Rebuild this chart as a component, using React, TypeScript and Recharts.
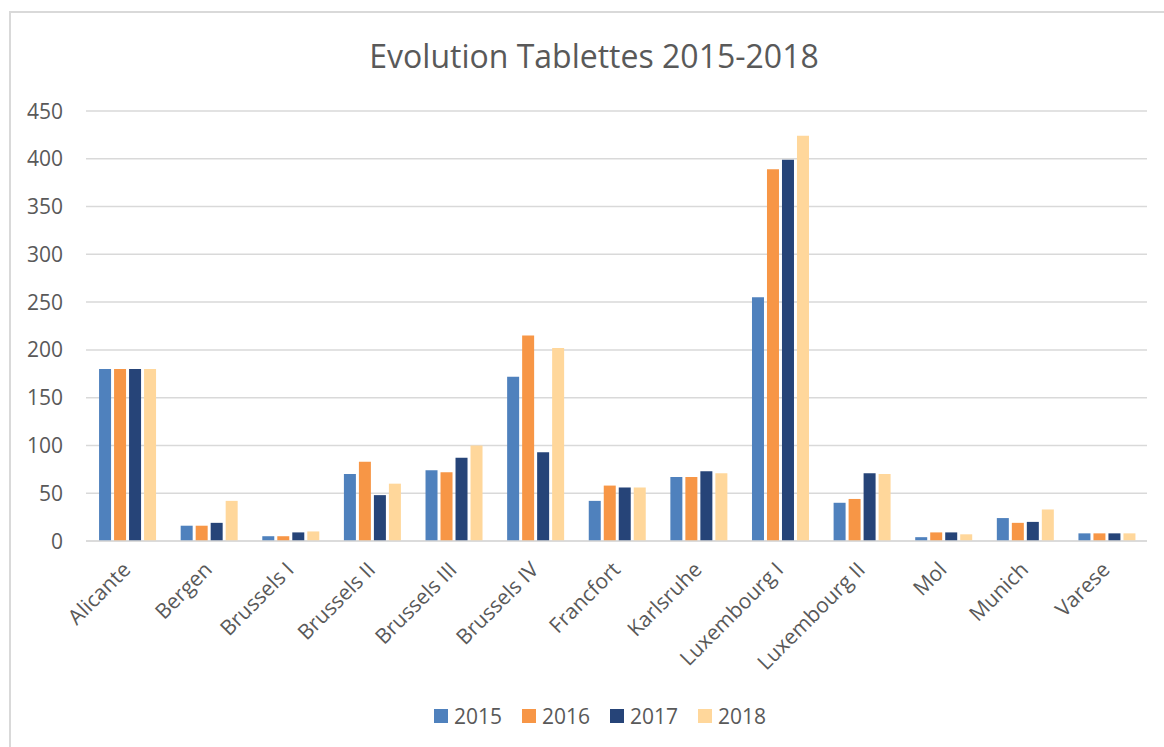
import React from 'react';
import { BarChart, Bar, XAxis, YAxis, CartesianGrid } from 'recharts';

const categories = ['Alicante', 'Bergen', 'Brussels I', 'Brussels II', 'Brussels III', 'Brussels IV', 'Francfort', 'Karlsruhe', 'Luxembourg I', 'Luxembourg II', 'Mol', 'Munich', 'Varese'];
const v2015 = [180, 16, 5, 70, 74, 172, 42, 67, 255, 40, 4, 24, 8];
const v2016 = [180, 16, 5, 83, 72, 215, 58, 67, 389, 44, 9, 19, 8];
const v2017 = [180, 19, 9, 48, 87, 93, 56, 73, 399, 71, 9, 20, 8];
const v2018 = [180, 42, 10, 60, 100, 202, 56, 71, 424, 70, 7, 33, 8];
const yTicks = [0, 50, 100, 150, 200, 250, 300, 350, 400, 450];
const seriesNames = ['2015', '2016', '2017', '2018'];
const seriesColors = ['#4F81BD', '#F79646', '#264478', '#FFD79B'];
const title = 'Evolution Tablettes 2015-2018';

const seriesValues = [v2015, v2016, v2017, v2018];
const data = categories.map((c, i) => {
  const row: Record<string, string | number> = { name: c };
  seriesNames.forEach((s, k) => {
    row[s] = seriesValues[k][i];
  });
  return row;
});

const FONT = '"Open Sans", sans-serif';
const TEXT = '#595959';

const XTick = (props: any) => {
  const { x, y, payload } = props;
  return (
    <text
      transform={`translate(${x + 5},${y + 30}) rotate(-45)`}
      textAnchor="end"
      fill={TEXT}
      fontSize={21}
      fontFamily={FONT}
    >
      {payload.value}
    </text>
  );
};

const YTick = (props: any) => {
  const { y, payload } = props;
  return (
    <text x={63} y={y} dy={7.5} textAnchor="end" fill={TEXT} fontSize={21} fontFamily={FONT}>
      {payload.value}
    </text>
  );
};

export default function App() {
  return (
    <div style={{ position: 'absolute', left: 0, top: 0, width: 1164, height: 747, background: '#fff', overflow: 'hidden', fontFamily: FONT }}>
      <div
        style={{
          position: 'absolute',
          left: 9,
          top: 11,
          width: 1200,
          height: 800,
          border: '2px solid #d9d9d9',
          boxSizing: 'border-box',
        }}
      />
      <div
        style={{
          position: 'absolute',
          left: 0,
          top: 34,
          width: 1188,
          textAlign: 'center',
          fontSize: 32,
          color: TEXT,
          lineHeight: 'normal',
          fontFamily: FONT,
        }}
      >
        {title}
      </div>
      <div style={{ position: 'absolute', left: 0, top: 0 }}>
        <BarChart
          width={1164}
          height={747}
          data={data}
          margin={{ top: 111, right: 17, bottom: 56, left: 0 }}
          barCategoryGap="16%"
          barGap={3}
        >
          <CartesianGrid horizontal vertical={false} stroke="#d9d9d9" strokeWidth={1.5} />
          <XAxis
            dataKey="name"
            interval={0}
            tickLine={false}
            tickSize={0}
            tickMargin={0}
            axisLine={{ stroke: '#d9d9d9', strokeWidth: 1.5 }}
            tick={<XTick />}
            height={150}
          />
          <YAxis
            width={86}
            domain={[0, 450]}
            ticks={yTicks}
            interval={0}
            tickLine={false}
            axisLine={false}
            tick={<YTick />}
          />
          {seriesNames.map((s, k) => (
            <Bar key={s} dataKey={s} name={s} fill={seriesColors[k]} isAnimationActive={false} />
          ))}
        </BarChart>
      </div>
      <div
        style={{
          position: 'absolute',
          left: 434,
          top: 702,
          display: 'flex',
          alignItems: 'center',
          fontFamily: FONT,
        }}
      >
        {seriesNames.map((s, i) => (
          <div key={s} style={{ display: 'flex', alignItems: 'center', marginRight: i < seriesNames.length - 1 ? 20 : 0 }}>
            <div style={{ width: 14, height: 14, background: seriesColors[i], marginRight: 6 }} />
            <span style={{ color: TEXT, fontSize: 21, lineHeight: '28px' }}>{s}</span>
          </div>
        ))}
      </div>
    </div>
  );
}
